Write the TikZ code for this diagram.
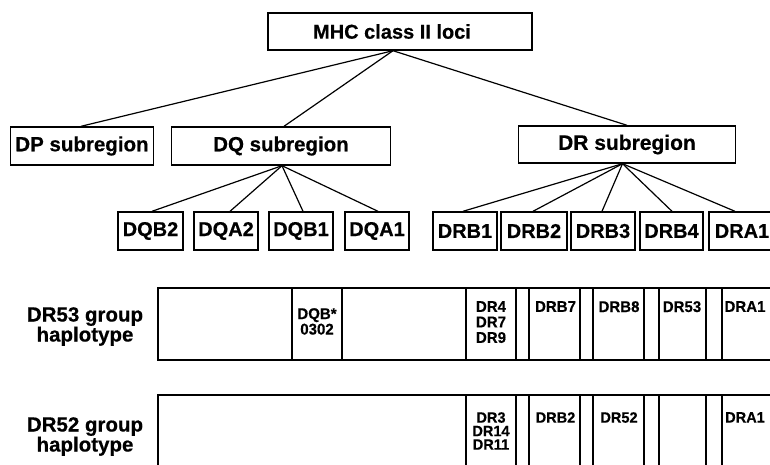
\documentclass[tikz,border=0pt]{standalone}
\usepackage{fontspec}
\setmainfont{Liberation Sans}
\newfontfamily\hbf{Liberation Sans}[FakeBold=0.5]
\newfontfamily\barfnt{Liberation Sans}[FakeStretch=0.97,FakeBold=0.4]
\begin{document}
\begin{tikzpicture}[x=1pt,y=-1pt,
  box/.style={draw, line width=1.4pt, inner sep=0pt, align=center},
  subbox/.style={box, minimum height=38pt, font=\hbf\bfseries\fontsize{20.5}{22}\selectfont},
  locus/.style={box, minimum height=38pt, font=\hbf\bfseries\fontsize{20}{22}\selectfont},
  conn/.style={line width=1.2pt},
  barline/.style={line width=1.3pt},
  sepline/.style={line width=1.1pt},
  barlabA/.style={anchor=north, inner sep=0pt, align=center, font=\barfnt\bfseries\fontsize{15.5}{15.5}\selectfont},
  barlabB/.style={anchor=north, inner sep=0pt, align=center, font=\barfnt\bfseries\fontsize{15}{13.5}\selectfont},
  sidelab/.style={anchor=north, inner sep=0pt, align=center, font=\hbf\bfseries\fontsize{20.5}{20}\selectfont},
]
\useasboundingbox (0,0) rectangle (770,464);
\clip (0,0) rectangle (770,464);

% top level
\node[box, minimum width=264pt, minimum height=37pt, font=\hbf\bfseries\fontsize{20}{22}\selectfont] (mhc) at (400,31.5) {\hspace*{-16pt}MHC class II loci};

% subregions
\node[subbox, minimum width=143pt] (dp) at (82,146) {DP subregion};
\node[subbox, minimum width=219pt] (dq) at (281,146) {DQ subregion};
\node[subbox, minimum width=217pt, minimum height=37pt, font=\hbf\bfseries\fontsize{21}{22}\selectfont] (dr) at (627,144.5) {DR subregion};

\coordinate (mhcs) at ([xshift=-7pt]mhc.south);
\draw[conn] (mhcs) -- ([xshift=-1pt]dp.north);
\draw[conn] (mhcs) -- ([xshift=3pt]dq.north);
\draw[conn] (mhcs) -- (dr.north);

% DQ loci
\node[locus, minimum width=65pt] (dqb2) at (150.5,231) {DQB2};
\node[locus, minimum width=64pt] (dqa2) at (226,231) {DQA2};
\node[locus, minimum width=64pt] (dqb1) at (301,231) {DQB1};
\node[locus, minimum width=64pt] (dqa1) at (377,231) {DQA1};

\coordinate (dqs) at ([xshift=1pt]dq.south);
\draw[conn] (dqs) -- ([xshift=1.5pt]dqb2.north);
\draw[conn] (dqs) -- ([xshift=4pt]dqa2.north);
\draw[conn] (dqs) -- ([xshift=2pt]dqb1.north);
\draw[conn] (dqs) -- ([xshift=1pt]dqa1.north);

% DR loci
\node[locus, minimum width=64pt] (drb1) at (465,231) {DRB1};
\node[locus, minimum width=66pt] (drb2) at (534,231) {DRB2};
\node[locus, minimum width=64pt] (drb3) at (603,231) {DRB3};
\node[locus, minimum width=63pt] (drb4) at (671.5,231) {DRB4};
\node[locus, minimum width=66pt] (dra1) at (742,231) {DRA1};

\coordinate (drs) at ([xshift=-4.5pt]dr.south);
\draw[conn] (drs) -- ([xshift=-2pt]drb1.north);
\draw[conn] (drs) -- ([xshift=-1pt]drb2.north);
\draw[conn] (drs) -- ([xshift=-1pt]drb3.north);
\draw[conn] (drs) -- ([xshift=0.5pt]drb4.north);
\draw[conn] (drs) -- ([xshift=-7pt]dra1.north);

% side labels
\node[sidelab] (lab53) at (85,307) {DR53 group\\haplotype};
\node[sidelab] (lab52) at (85,417) {DR52 group\\haplotype};

% DR53 haplotype bar
\draw[barline] (800,288) -- (158,288) -- (158,360) -- (800,360);
\foreach \x in {292,342,466,516,529,580,593,644,659,706,722}
  \draw[sepline] (\x,288) -- (\x,360);
\node[barlabA] (b1dqb) at (317,308) {DQB*\\0302};
\node[barlabA] (b1dr4) at (491,301) {DR4\\DR7\\DR9};
\node[barlabA] (b1drb7) at (555.5,301) {DRB7};
\node[barlabA] (b1drb8) at (619,301) {DRB8};
\node[barlabA] (b1dr53) at (682,301) {DR53};
\node[barlabA] (b1dra1) at (745,301) {DRA1};

% DR52 haplotype bar
\draw[barline] (800,395) -- (158,395) -- (158,480);
\foreach \x in {466,516,529,580,593,644,659,706,722}
  \draw[sepline] (\x,395) -- (\x,480);
\node[barlabB] (b2dr3) at (491,412) {DR3\\DR14\\DR11};
\node[barlabB] (b2drb2) at (555.5,412) {DRB2};
\node[barlabB] (b2dr52) at (619,412) {DR52};
\node[barlabB] (b2dra1) at (745,412) {DRA1};
\end{tikzpicture}
\end{document}
